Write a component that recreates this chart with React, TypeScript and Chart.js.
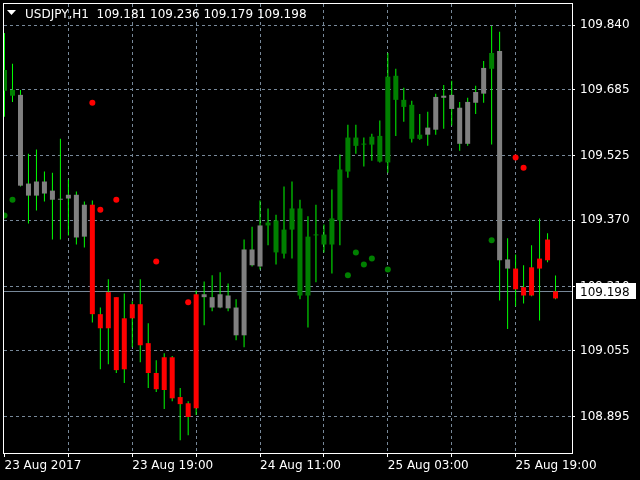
import React, { useEffect, useRef } from 'react';
import { Chart, registerables } from 'chart.js';

Chart.register(...registerables);

// ---- data (USDJPY, H1) ----
const symbol = 'USDJPY,H1';

const opens = [
  109.732, 109.684, 109.672, 109.458, 109.429, 109.463, 109.441, 109.421, 109.422, 109.431,
  109.330, 109.407, 109.143, 109.109, 109.184, 109.010, 109.133, 109.167, 109.073, 109.001,
  108.960, 109.039, 108.943, 108.928, 108.916, 109.191, 109.184, 109.159, 109.188, 109.159,
  109.092, 109.299, 109.258, 109.357, 109.369, 109.289, 109.347, 109.398, 109.188, 109.333,
  109.335, 109.311, 109.369, 109.487, 109.569, 109.552, 109.552, 109.573, 109.509, 109.718,
  109.660, 109.648, 109.566, 109.576, 109.588, 109.665, 109.672, 109.641, 109.554, 109.653,
  109.675, 109.735, 109.778, 109.275, 109.253, 109.208, 109.188, 109.253, 109.273, 109.181,
];
const highs = [
  109.821, 109.747, 109.684, 109.530, 109.540, 109.487, 109.484, 109.566, 109.468, 109.439,
  109.415, 109.417, 109.159, 109.227, 109.184, 109.193, 109.174, 109.227, 109.121, 109.032,
  109.049, 109.042, 108.965, 108.933, 109.200, 109.222, 109.237, 109.244, 109.217, 109.179,
  109.323, 109.354, 109.417, 109.398, 109.383, 109.451, 109.463, 109.419, 109.379, 109.407,
  109.359, 109.444, 109.528, 109.600, 109.600, 109.569, 109.578, 109.610, 109.773, 109.735,
  109.689, 109.658, 109.626, 109.631, 109.675, 109.696, 109.706, 109.655, 109.665, 109.694,
  109.754, 109.838, 109.824, 109.326, 109.287, 109.261, 109.309, 109.374, 109.338, 109.236,
];
const lows = [
  109.619, 109.655, 109.451, 109.362, 109.393, 109.415, 109.323, 109.323, 109.333, 109.311,
  109.304, 109.123, 109.010, 109.022, 109.001, 108.977, 109.063, 109.027, 108.965, 108.955,
  108.914, 108.933, 108.839, 108.851, 108.900, 109.116, 109.150, 109.157, 109.150, 109.080,
  109.063, 109.258, 109.251, 109.309, 109.263, 109.277, 109.277, 109.179, 109.111, 109.220,
  109.292, 109.241, 109.309, 109.472, 109.530, 109.499, 109.513, 109.509, 109.484, 109.573,
  109.607, 109.557, 109.564, 109.549, 109.576, 109.590, 109.598, 109.537, 109.549, 109.626,
  109.653, 109.552, 109.176, 109.107, 109.162, 109.169, 109.186, 109.128, 109.268, 109.179,
];
const closes = [
  109.682, 109.670, 109.453, 109.429, 109.463, 109.434, 109.419, 109.419, 109.431, 109.328,
  109.407, 109.143, 109.109, 109.196, 109.008, 109.133, 109.167, 109.068, 109.001, 108.962,
  109.039, 108.940, 108.926, 108.895, 109.191, 109.184, 109.159, 109.191, 109.157, 109.092,
  109.299, 109.261, 109.357, 109.364, 109.292, 109.347, 109.398, 109.188, 109.330, 109.333,
  109.311, 109.374, 109.492, 109.569, 109.549, 109.552, 109.571, 109.511, 109.716, 109.660,
  109.643, 109.566, 109.576, 109.593, 109.667, 109.670, 109.638, 109.554, 109.655, 109.679,
  109.737, 109.773, 109.273, 109.253, 109.203, 109.188, 109.256, 109.277, 109.323, 109.198,
];
// trend state per bar: u = up (green), n = neutral (gray), d = down (red)
const trend = [
  'u', 'u', 'n', 'n', 'n', 'n', 'n', 'n', 'n', 'n',
  'n', 'd', 'd', 'd', 'd', 'd', 'd', 'd', 'd', 'd',
  'd', 'd', 'd', 'd', 'd', 'n', 'n', 'n', 'n', 'n',
  'n', 'n', 'n', 'u', 'u', 'u', 'u', 'u', 'u', 'u',
  'u', 'u', 'u', 'u', 'u', 'u', 'u', 'u', 'u', 'u',
  'u', 'u', 'u', 'n', 'n', 'n', 'n', 'n', 'n', 'n',
  'n', 'u', 'n', 'n', 'd', 'd', 'd', 'd', 'd', 'd',
];

const redDotIndex = [11, 12, 14, 19, 23, 64, 65];
const redDotPrice = [109.653, 109.395, 109.419, 109.270, 109.172, 109.521, 109.496];
const greenDotIndex = [0, 1, 43, 44, 45, 46, 48, 61];
const greenDotPrice = [109.381, 109.419, 109.237, 109.292, 109.263, 109.277, 109.251, 109.321];

const xLabelIndex = [0, 16, 32, 48, 64];
const xLabels = ['23 Aug 2017', '23 Aug 19:00', '24 Aug 11:00', '25 Aug 03:00', '25 Aug 19:00'];
const xGridIndex = [0, 8, 16, 24, 32, 40, 48, 56, 64];
const yTickLabels = ['109.840', '109.685', '109.525', '109.370', '109.210', '109.055', '108.895'];

// ---- view ----
const X_MIN = -0.0625;
const X_MAX = 71.0625;
const Y_MIN = 108.80807;
const Y_MAX = 109.89122;

const FONT = '"DejaVu Sans", sans-serif';
const GRID = '#778899';
const TREND_COLORS: Record<string, string> = { u: '#008000', n: '#808080', d: '#ff0000' };

const mt4Plugin = {
  id: 'mt4Decor',
  beforeDatasetsDraw(chart: any) {
    const { ctx, chartArea, scales } = chart;
    const y = Math.floor(scales.y.getPixelForValue(closes[closes.length - 1])) + 0.5;
    ctx.save();
    ctx.strokeStyle = GRID;
    ctx.lineWidth = 1;
    ctx.beginPath();
    ctx.moveTo(chartArea.left, y);
    ctx.lineTo(chartArea.right, y);
    ctx.stroke();
    ctx.restore();
  },
  afterDraw(chart: any) {
    const { ctx, chartArea, scales } = chart;
    ctx.save();
    // frame
    ctx.strokeStyle = '#ffffff';
    ctx.lineWidth = 1;
    ctx.strokeRect(chartArea.left - 0.5, chartArea.top - 0.5,
      chartArea.right - chartArea.left + 1, chartArea.bottom - chartArea.top + 1);
    // current price box
    const last = closes.length - 1;
    const py = Math.round(scales.y.getPixelForValue(closes[last]));
    ctx.fillStyle = '#ffffff';
    ctx.fillRect(chartArea.right + 4, py - 8, 60, 16);
    ctx.fillStyle = '#000000';
    ctx.font = `12px ${FONT}`;
    ctx.textBaseline = 'alphabetic';
    ctx.textAlign = 'left';
    ctx.fillText(closes[last].toFixed(3), chartArea.right + 8, py + 5);
    // title
    ctx.fillStyle = '#ffffff';
    ctx.beginPath();
    ctx.moveTo(7, 10);
    ctx.lineTo(16, 10);
    ctx.lineTo(11.5, 15);
    ctx.closePath();
    ctx.fill();
    const title = `${symbol}  ${opens[last].toFixed(3)} ${highs[last].toFixed(3)} ${lows[last].toFixed(3)} ${closes[last].toFixed(3)}`;
    ctx.fillText(title, 25, 18);
    ctx.restore();
  },
};

export default function App() {
  const canvasRef = useRef<HTMLCanvasElement | null>(null);

  useEffect(() => {
    const canvas = canvasRef.current;
    if (!canvas) return;
    const idx = opens.map((_, i) => i);
    const chart = new Chart(canvas, {
      type: 'bar',
      data: {
        datasets: [
          {
            type: 'scatter',
            label: 'red dots',
            data: redDotIndex.map((k, i) => ({ x: k, y: redDotPrice[i] })),
            backgroundColor: '#ff0000',
            borderWidth: 0,
            pointRadius: 3,
            order: 1,
            clip: 0,
          } as any,
          {
            type: 'scatter',
            label: 'green dots',
            data: greenDotIndex.map((k, i) => ({ x: k, y: greenDotPrice[i] })),
            backgroundColor: '#008000',
            borderWidth: 0,
            pointRadius: 3,
            order: 1,
            clip: 0,
          } as any,
          {
            type: 'bar',
            label: 'bodies',
            data: idx.map((k) => ({ x: k, y: [opens[k], closes[k]] })),
            backgroundColor: idx.map((k) => TREND_COLORS[trend[k]]),
            borderWidth: 0,
            barThickness: 5,
            minBarLength: 1,
            grouped: false,
            inflateAmount: 0,
            order: 2,
            clip: 0,
          } as any,
          {
            type: 'bar',
            label: 'wicks',
            data: idx.map((k) => ({ x: k, y: [lows[k], highs[k]] })),
            backgroundColor: '#00ff00',
            borderWidth: 0,
            barThickness: 1,
            grouped: false,
            inflateAmount: 0,
            order: 3,
            clip: 0,
          } as any,
        ],
      },
      options: {
        responsive: false,
        animation: false,
        events: [],
        layout: { padding: { left: 3, top: 3, right: 0, bottom: 0 } },
        plugins: {
          legend: { display: false },
          tooltip: { enabled: false },
          title: { display: false },
        },
        scales: {
          x: {
            type: 'linear',
            position: 'bottom',
            offset: false,
            min: X_MIN,
            max: X_MAX,
            afterBuildTicks: (s: any) => {
              s.ticks = xGridIndex.map((v) => ({ value: v }));
            },
            afterFit: (s: any) => {
              s.height = 27;
              s.paddingLeft = 0;
              s.paddingRight = 0;
            },
            ticks: {
              autoSkip: false,
              maxRotation: 0,
              minRotation: 0,
              align: 'start',
              color: '#ffffff',
              padding: 2,
              font: { family: FONT, size: 12 },
              callback: (v: any) => {
                const i = xLabelIndex.indexOf(Number(v));
                return i >= 0 ? xLabels[i] : '';
              },
            },
            grid: {
              offset: false,
              color: (c: any) => (c.tick && c.tick.value === 0 ? 'rgba(0,0,0,0)' : GRID),
              lineWidth: 1,
              drawTicks: true,
              tickLength: 4,
              tickColor: '#ffffff',
              tickBorderDash: [],
            },
            border: { display: false, dash: [3, 3] },
          },
          y: {
            type: 'linear',
            position: 'right',
            min: Y_MIN,
            max: Y_MAX,
            afterBuildTicks: (s: any) => {
              s.ticks = yTickLabels.map((l) => ({ value: parseFloat(l) }));
            },
            afterFit: (s: any) => {
              s.width = 68;
              s.paddingTop = 0;
              s.paddingBottom = 0;
            },
            ticks: {
              color: '#ffffff',
              padding: 5,
              font: { family: FONT, size: 12 },
              callback: (v: any) => Number(v).toFixed(3),
            },
            grid: {
              color: GRID,
              lineWidth: 1,
              drawTicks: true,
              tickLength: 3,
              tickColor: '#ffffff',
              tickBorderDash: [],
            },
            border: { display: false, dash: [3, 3] },
          },
        },
      } as any,
      plugins: [mt4Plugin],
    });
    return () => chart.destroy();
  }, []);

  return (
    <div style={{ position: 'fixed', left: 0, top: 0, width: 640, height: 480, background: '#000000' }}>
      <canvas ref={canvasRef} width={640} height={480} style={{ display: 'block', width: 640, height: 480 }} />
    </div>
  );
}
